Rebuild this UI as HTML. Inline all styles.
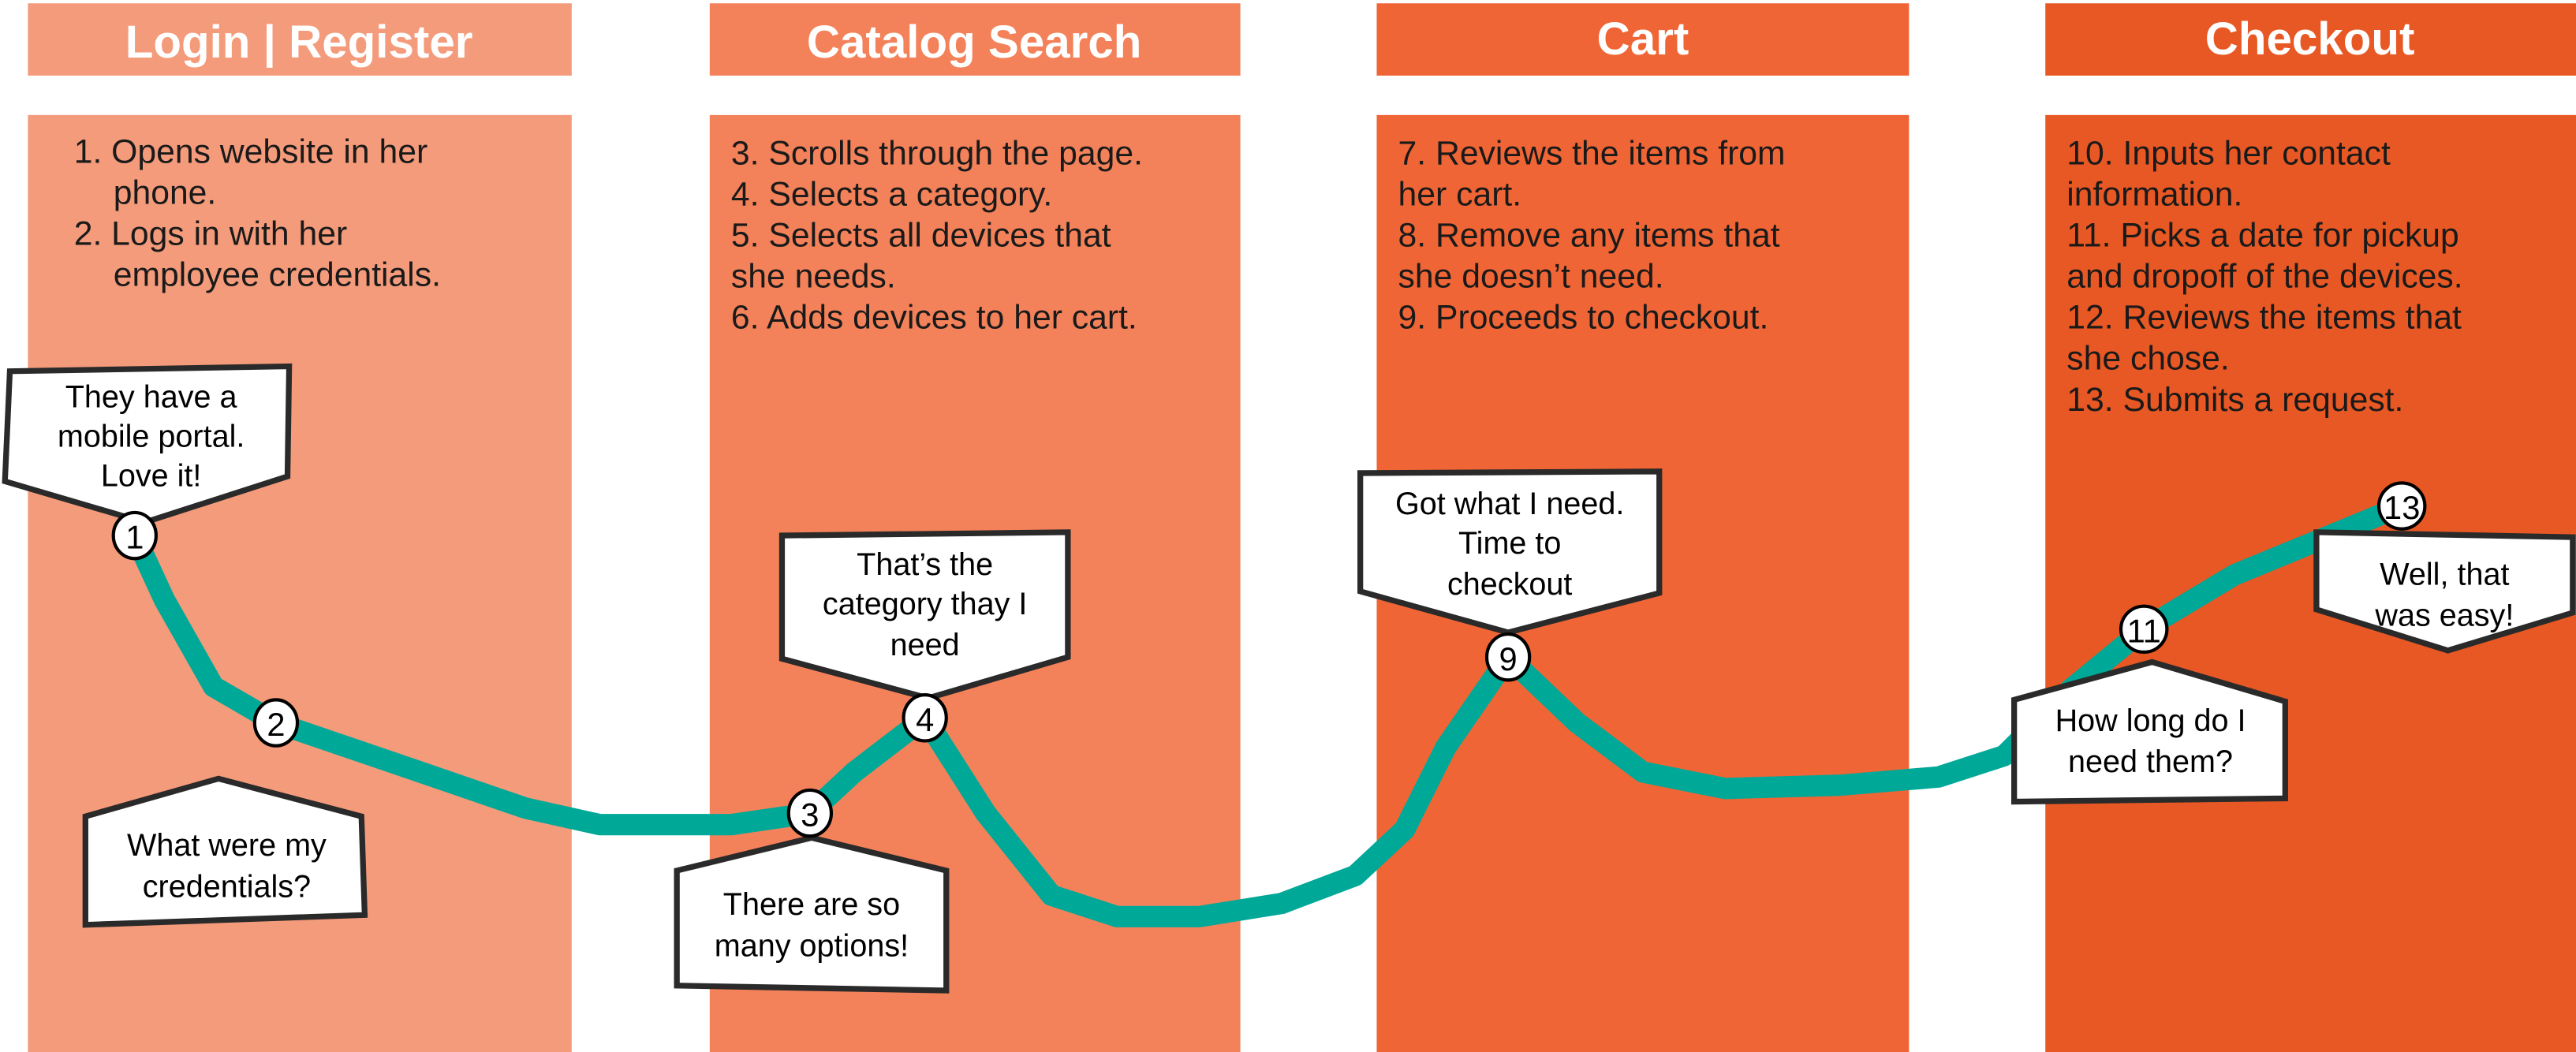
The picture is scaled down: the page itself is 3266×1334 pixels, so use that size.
<!DOCTYPE html>
<html><head><meta charset="utf-8"><style>
html,body{margin:0;padding:0;background:#fff;}
svg{display:block;}
.h{font-family:"Liberation Sans",sans-serif;font-weight:bold;fill:#fff;font-size:28px;text-anchor:middle;}
.t{font-family:"Liberation Sans",sans-serif;fill:#1a1a1a;font-size:20.5px;}
.b{font-family:"Liberation Sans",sans-serif;fill:#000;font-size:19px;text-anchor:middle;}
.n{font-family:"Liberation Sans",sans-serif;fill:#000;font-size:20px;text-anchor:middle;}
.bub{fill:#fff;stroke:#2a2a2a;stroke-width:3.5;}
.c{fill:#fff;stroke:#000;stroke-width:2;}
</style></head><body>
<svg width="3266" height="1334" viewBox="0 0 1568 640.4" xmlns="http://www.w3.org/2000/svg">
<rect x="0" y="0" width="1568" height="641" fill="#fff"/>
<rect x="17" y="2" width="331" height="44" fill="#F49B7B"/>
<rect x="17" y="70" width="331" height="571" fill="#F49B7B"/>
<rect x="432" y="2" width="323" height="44" fill="#F3825A"/>
<rect x="432" y="70" width="323" height="571" fill="#F3825A"/>
<rect x="838" y="2" width="324" height="44" fill="#F06535"/>
<rect x="838" y="70" width="324" height="571" fill="#F06535"/>
<rect x="1245" y="2" width="323" height="44" fill="#E85824"/>
<rect x="1245" y="70" width="323" height="571" fill="#E85824"/>
<text class="h" x="182" y="35">Login | Register</text>
<text class="h" x="593" y="35">Catalog Search</text>
<text class="h" x="1000" y="33">Cart</text>
<text class="h" x="1406" y="33">Checkout</text>

<g class="t">
<text x="45" y="99">1. Opens website in her</text>
<text x="69" y="124">phone.</text>
<text x="45" y="149">2. Logs in with her</text>
<text x="69" y="174">employee credentials.</text>
<text x="445" y="100">3. Scrolls through the page.</text>
<text x="445" y="125">4. Selects a category.</text>
<text x="445" y="150">5. Selects all devices that</text>
<text x="445" y="175">she needs.</text>
<text x="445" y="200">6. Adds devices to her cart.</text>
<text x="851" y="100">7. Reviews the items from</text>
<text x="851" y="125">her cart.</text>
<text x="851" y="150">8. Remove any items that</text>
<text x="851" y="175">she doesn’t need.</text>
<text x="851" y="200">9. Proceeds to checkout.</text>
<text x="1258" y="100">10. Inputs her contact</text>
<text x="1258" y="125">information.</text>
<text x="1258" y="150">11. Picks a date for pickup</text>
<text x="1258" y="175">and dropoff of the devices.</text>
<text x="1258" y="200">12. Reviews the items that</text>
<text x="1258" y="225">she chose.</text>
<text x="1258" y="250">13. Submits a request.</text>
</g>

<polyline fill="none" stroke="#00A898" stroke-width="13" stroke-linejoin="round" stroke-linecap="round"
points="82,326 100,365 130,418 168,440 250,468 320,492 365,502 445,502 493,495 520,470 563,437 600,495 640,545 680,558 730,558 780,550 825,533 855,505 880,455 918,400 960,440 1000,470 1050,480 1120,478 1180,473 1220,460 1260,420 1305,383 1360,350 1462,308"/>

<polygon class="bub" points="6,226 176,223 175,290 88,318 3,293"/>
<text class="b" x="92" y="248">They have a</text>
<text class="b" x="92" y="272">mobile portal.</text>
<text class="b" x="92" y="296">Love it!</text>

<polygon class="bub" points="133,474 220,497 222,557 52,563 52,497"/>
<text class="b" x="138" y="521">What were my</text>
<text class="b" x="138" y="546">credentials?</text>

<polygon class="bub" points="476,326 650,324 650,400 565,425 476,401"/>
<text class="b" x="563" y="350">That’s the</text>
<text class="b" x="563" y="374">category thay I</text>
<text class="b" x="563" y="399">need</text>

<polygon class="bub" points="494,510 576,530 576,603 412,600 412,530"/>
<text class="b" x="494" y="557">There are so</text>
<text class="b" x="494" y="582">many options!</text>

<polygon class="bub" points="828,288 1010,287 1010,361 918,385 828,360"/>
<text class="b" x="919" y="313">Got what I need.</text>
<text class="b" x="919" y="337">Time to</text>
<text class="b" x="919" y="362">checkout</text>

<polygon class="bub" points="1310,403 1391,427 1391,486 1226,488 1226,426"/>
<text class="b" x="1309" y="445">How long do I</text>
<text class="b" x="1309" y="470">need them?</text>

<polygon class="bub" points="1410,324 1566,327 1566,373 1490,396 1410,371"/>
<text class="b" x="1488" y="356">Well, that</text>
<text class="b" x="1488" y="381">was easy!</text>

<g>
<ellipse class="c" cx="82" cy="326" rx="13" ry="14"/><text class="n" x="82" y="334">1</text>
<ellipse class="c" cx="168" cy="440" rx="13" ry="14"/><text class="n" x="168" y="448">2</text>
<ellipse class="c" cx="493" cy="495" rx="13" ry="14"/><text class="n" x="493" y="503">3</text>
<ellipse class="c" cx="563" cy="437" rx="13" ry="14"/><text class="n" x="563" y="445">4</text>
<ellipse class="c" cx="918" cy="400" rx="13" ry="14"/><text class="n" x="918" y="408">9</text>
<ellipse class="c" cx="1305" cy="383" rx="14" ry="14"/><text class="n" x="1305" y="391">11</text>
<ellipse class="c" cx="1462" cy="308" rx="14" ry="14"/><text class="n" x="1462" y="316">13</text>
</g>
</svg>
</body></html>
